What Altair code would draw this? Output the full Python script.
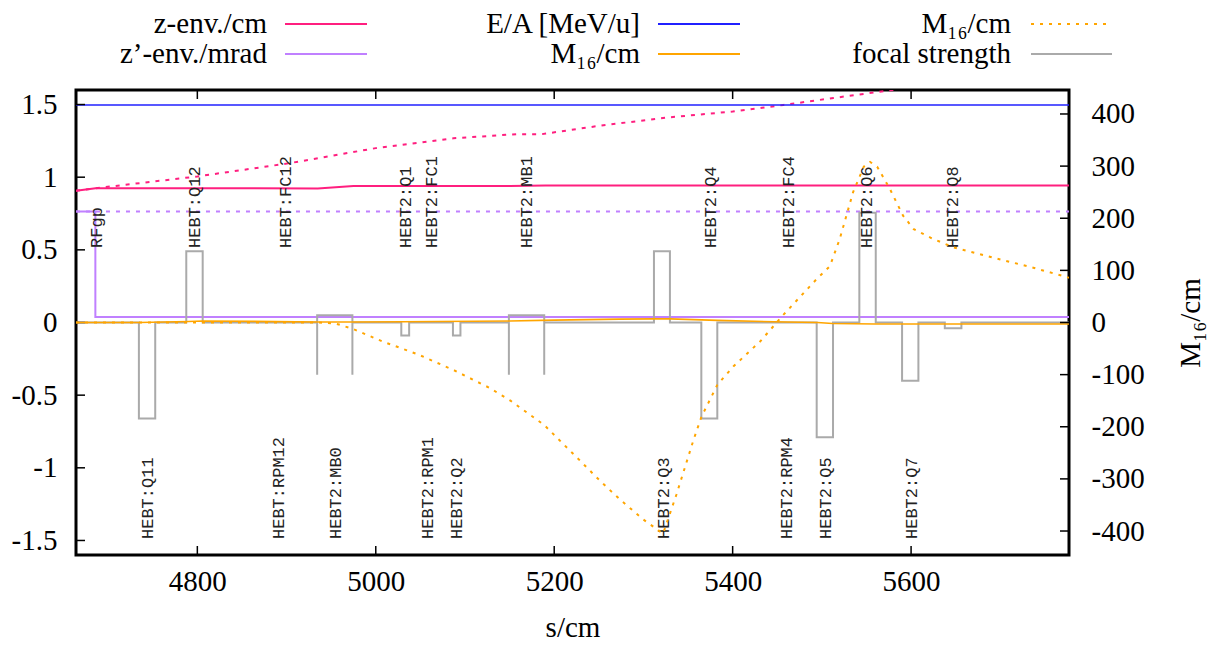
import altair as alt
import pandas as pd

# ---------------- data ----------------
S_DOMAIN = [4664, 5777]
L_DOMAIN = [-1.6, 1.6]
R_DOMAIN = [-446, 446]

x_ticks = [4800, 5000, 5200, 5400, 5600]
yl_ticks = [-1.5, -1.0, -0.5, 0.0, 0.5, 1.0, 1.5]
yr_ticks = [-400, -300, -200, -100, 0, 100, 200, 300, 400]

# E/A [MeV/u]
ea_s = [4664, 5777]
ea_v = [1.497, 1.497]

# z-env./cm (solid)
zenv_s = [4664, 4686, 4935, 4975, 5150, 5190, 5777]
zenv_v = [0.906, 0.924, 0.923, 0.940, 0.940, 0.943, 0.943]

# x-env (dotted pink, no key)
xenv_s = [4664, 4686, 4800, 4903, 5000, 5087, 5158, 5186, 5251, 5326, 5400, 5457, 5513, 5590]
xenv_v = [0.906, 0.924, 1.005, 1.096, 1.200, 1.268, 1.296, 1.296, 1.354, 1.410, 1.452, 1.497, 1.545, 1.609]

# z'-env./mrad (solid purple)
zpenv_s = [4664, 4685.7, 4685.7, 5777]
zpenv_v = [0.764, 0.764, 0.037, 0.037]

# x'-env (dotted purple, no key)
xpenv_s = [4664, 5777]
xpenv_v = [0.764, 0.764]

# M16/cm solid (right axis)
m16a_s = [4664, 4735, 4790, 4806, 4935, 4975, 5030, 5150, 5200, 5273, 5312, 5330, 5365, 5383, 5460, 5495, 5512, 5560, 5777]
m16a_v = [0, 0, 2, 3, 1, 1, 1.5, 3, 4.5, 6.4, 7, 7, 5, 4, 1, 0, -2, -3, -3]

# M16/cm dotted (right axis)
m16b_s = [4664, 4935, 4955, 4974, 5007, 5047, 5087, 5127, 5151, 5189, 5226, 5251, 5274, 5300, 5322,
          5337, 5356, 5365, 5383, 5401, 5431, 5457, 5494, 5509, 5520, 5535, 5547, 5554, 5562, 5576,
          5591, 5603, 5625, 5648, 5700, 5737, 5777]
m16b_v = [0, 0, -2, -12, -36, -61, -91, -125, -150, -197, -260, -303, -340, -378, -405,
          -330, -226, -181, -119, -84, -36, 15, 83, 108, 160, 250, 299, 308, 299, 257,
          205, 179, 160, 144, 121, 105, 86]

# focal strength elements
elem_start = [4734.5, 4787.6, 4934.3, 5028.6, 5086.5, 5149.2, 5311.8, 5364.9, 5494.2, 5542.0, 5589.9, 5637.8]
elem_end   = [4752.8, 4806.0, 4973.8, 5037.4, 5094.9, 5188.8, 5329.7, 5382.8, 5512.5, 5560.4, 5608.2, 5656.4]
elem_k     = [-0.66, 0.49, 0.05, -0.09, -0.09, 0.05, 0.49, -0.66, -0.79, 0.755, -0.40, -0.04]
elem_edge  = [0, 0, -0.36, 0, 0, -0.36, 0, 0, 0, 0, 0, 0]

# element labels
up_names = ["RFgp", "HEBT:Q12", "HEBT:FC12", "HEBT2:Q1", "HEBT2:FC1", "HEBT2:MB1",
            "HEBT2:Q4", "HEBT2:FC4", "HEBT2:Q6", "HEBT2:Q8"]
up_s = [4688, 4797, 4899, 5034, 5063, 5170, 5376, 5463, 5551, 5647]
lo_names = ["HEBT:Q11", "HEBT:RPM12", "HEBT2:MB0", "HEBT2:RPM1", "HEBT2:Q2",
            "HEBT2:Q3", "HEBT2:RPM4", "HEBT2:Q5", "HEBT2:Q7"]
lo_s = [4745, 4891, 4955, 5058, 5091, 5323, 5461, 5505, 5601]
UP_LEVEL = 0.513
LO_LEVEL = -1.49

# ---------------- styling ----------------
W, H = 993, 465
FONT = "Liberation Serif"
FS = 29
PINK = "#ff1f7f"
PURPLE = "#c080ff"
BLUE = "#2020ff"
ORANGE = "#ffa500"
GRAY = "#aaaaaa"

xscale = alt.Scale(domain=S_DOMAIN, nice=False, zero=False)
lscale = alt.Scale(domain=L_DOMAIN, nice=False, zero=False)
rscale = alt.Scale(domain=R_DOMAIN, nice=False, zero=False)

common = dict(grid=False, domain=False, ticks=False, tickSize=0, labelOverlap=False,
              labelFont=FONT, labelFontSize=FS, labelColor="black",
              titleFont=FONT, titleFontSize=FS, titleColor="black", titleFontWeight="normal")

xaxis = alt.Axis(values=x_ticks, labelExpr="'' + datum.value", labelPadding=12,
                 title="s/cm", titleY=72, titleBaseline="middle", **common)
laxis = alt.Axis(values=yl_ticks, labelExpr="'' + datum.value", labelPadding=19, title=None, **common)
raxis = alt.Axis(values=yr_ticks, labelExpr="'' + datum.value", labelPadding=22, orient="right",
                 title="M₁₆/cm", titleAngle=270, titleX=121, titleY=H / 2,
                 titleAlign="center", titleBaseline="middle", **common)


def X(f):
    return alt.X(f, type="quantitative", scale=xscale, axis=xaxis)


def YL(f):
    return alt.Y(f, type="quantitative", scale=lscale, axis=laxis)


def YR(f):
    return alt.Y(f, type="quantitative", scale=rscale, axis=raxis)


def series(s, v):
    return pd.DataFrame({"s": s, "v": v, "i": list(range(len(s)))})


def line(df, color, yfn, width=2.0, dash=None):
    kw = dict(color=color, strokeWidth=width, clip=True)
    if dash is not None:
        kw["strokeDash"] = dash
    return alt.Chart(df).mark_line(**kw).encode(x=X("s"), y=yfn("v"), order=alt.Order("i:Q"))


# focal strength path
fs_s, fs_v = [S_DOMAIN[0]], [0.0]
for a, b, k, e in zip(elem_start, elem_end, elem_k, elem_edge):
    if e != 0:
        fs_s += [a, a, a, b, b, b]
        fs_v += [0.0, e, k, k, e, 0.0]
    else:
        fs_s += [a, a, b, b]
        fs_v += [0.0, k, k, 0.0]
fs_s.append(S_DOMAIN[1])
fs_v.append(0.0)

left_layers = [
    line(series(xpenv_s, xpenv_v), PURPLE, YL, 1.8, [4, 6]),
    line(series(xenv_s, xenv_v), PINK, YL, 2.0, [4, 6]),
    line(series(ea_s, ea_v), BLUE, YL, 1.6),
    line(series(zenv_s, zenv_v), PINK, YL, 2.0),
    line(series(zpenv_s, zpenv_v), PURPLE, YL, 2.0),
    line(series(fs_s, fs_v), GRAY, YL, 2.0),
]

lab_df = pd.DataFrame({"name": up_names + lo_names, "s": up_s + lo_s,
                       "lv": [UP_LEVEL] * len(up_s) + [LO_LEVEL] * len(lo_s)})
labels = alt.Chart(lab_df).mark_text(angle=270, align="left", baseline="middle",
                                     font="Liberation Mono", fontSize=17, color="#222222").encode(
    x=X("s"), y=YL("lv"), text="name:N")
left_layers.append(labels)

# inward tick marks
xt = pd.DataFrame({"s": x_ticks})
left_layers.append(alt.Chart(xt).mark_rule(color="black", strokeWidth=1.5).encode(
    x=X("s"), y=alt.value(H), y2=alt.value(H - 9)))
left_layers.append(alt.Chart(xt).mark_rule(color="black", strokeWidth=1.5).encode(
    x=X("s"), y=alt.value(0), y2=alt.value(9)))
ylt = pd.DataFrame({"v": yl_ticks})
left_layers.append(alt.Chart(ylt).mark_rule(color="black", strokeWidth=1.5).encode(
    y=YL("v"), x=alt.value(0), x2=alt.value(9)))

# key (top, three columns, text left of sample line)
key_entries = [
    ("z-env./cm", 191, -66, 209, 291, PINK, None),
    ("z’-env./mrad", 191, -36, 209, 291, PURPLE, None),
    ("E/A [MeV/u]", 564, -66, 582, 664, BLUE, None),
    ("M₁₆/cm", 564, -36, 582, 664, ORANGE, None),
    ("M₁₆/cm", 935, -66, 955, 1036, ORANGE, [3, 6]),
    ("focal strength", 935, -36, 955, 1036, GRAY, None),
]
one = pd.DataFrame({"k": [0]})
for lab, tx, ty, l1, l2, col, dash in key_entries:
    left_layers.append(alt.Chart(one).mark_text(align="right", baseline="middle", font=FONT,
                                                fontSize=FS, color="black").encode(
        x=alt.value(tx), y=alt.value(ty), text=alt.value(lab)))
    kw = dict(color=col, strokeWidth=2)
    if dash is not None:
        kw["strokeDash"] = dash
    left_layers.append(alt.Chart(one).mark_rule(**kw).encode(
        x=alt.value(l1), x2=alt.value(l2), y=alt.value(ty)))

right_layers = [
    line(series(m16a_s, m16a_v), ORANGE, YR, 1.6),
    line(series(m16b_s, m16b_v), ORANGE, YR, 2.0, [3, 6]),
]
yrt = pd.DataFrame({"v": yr_ticks})
right_layers.append(alt.Chart(yrt).mark_rule(color="black", strokeWidth=1.5).encode(
    y=YR("v"), x=alt.value(W - 9), x2=alt.value(W)))

chart = alt.layer(alt.layer(*left_layers), alt.layer(*right_layers)).resolve_scale(
    y="independent"
).properties(
    width=W, height=H, autosize="none",
    padding={"left": 76, "top": 90, "right": 1217 - 76 - W, "bottom": 645 - 90 - H},
).configure(
    font=FONT
).configure_view(
    stroke="black", strokeWidth=3
)

chart.save("out.html", embed_options={"renderer": "svg", "actions": False})
